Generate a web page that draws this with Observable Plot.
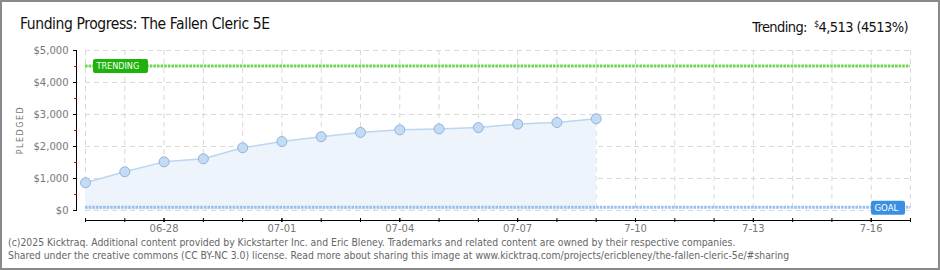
<!DOCTYPE html>
<html><head><meta charset="utf-8">
<script src="https://cdn.jsdelivr.net/npm/d3@7"></script>
<script src="https://cdn.jsdelivr.net/npm/@observablehq/plot@0.6"></script>
<style>
body{margin:0;background:#fff;}
#wrap{position:relative;width:940px;height:270px;overflow:hidden;background:#fff;}
#border{position:absolute;left:0;top:0;width:940px;height:270px;box-sizing:border-box;border:2px solid #8a8a8a;pointer-events:none}
.hd{position:absolute;top:16px;font-family:"DejaVu Sans Condensed",sans-serif;font-size:15.5px;line-height:16px;color:#111;white-space:nowrap;letter-spacing:-0.4px}
#title{left:20px}
#trend{right:32px;font-size:14.5px;letter-spacing:-0.6px}
#trend sup{font-size:9px;vertical-align:5px}
#chart{position:absolute;left:0;top:40px}
#ylab{position:absolute;left:20px;top:130px;transform:translate(-50%,-50%) rotate(-90deg);font-family:"DejaVu Sans",sans-serif;font-size:8px;letter-spacing:1.5px;color:#777;white-space:nowrap}
#foot{position:absolute;left:8px;top:236px;font-family:"DejaVu Sans Condensed",sans-serif;font-size:10.35px;color:#666;line-height:13px;white-space:nowrap}
</style></head>
<body>
<div id="wrap">
  <div id="title" class="hd">Funding Progress: The Fallen Cleric 5E</div>
  <div id="trend" class="hd">Trending:&nbsp; <sup>$</sup>4,513 (4513%)</div>
  <div id="chart"></div>
  <div id="ylab">PLEDGED</div>
  <div id="foot">(c)2025 Kicktraq. Additional content provided by Kickstarter Inc. and Eric Bleney. Trademarks and related content are owned by their respective companies.<br>Shared under the creative commons (CC BY-NC 3.0) license. Read more about sharing this image at www.kicktraq.com/projects/ericbleney/the-fallen-cleric-5e/#sharing</div>
  <div id="border"></div>
</div>
<script>
const dates = ["2025-06-26","2025-06-27","2025-06-28","2025-06-29","2025-06-30","2025-07-01","2025-07-02","2025-07-03","2025-07-04","2025-07-05","2025-07-06","2025-07-07","2025-07-08","2025-07-09"];
const pledged = [866,1210,1520,1615,1960,2155,2305,2440,2520,2550,2590,2700,2750,2865];
const goal = 100;
const trending = 4513;
const yTicks = [0,1000,2000,3000,4000,5000];
const yMinorTicks = [500,1500,2500,3500,4500];
const xLabelDates = ["2025-06-28","2025-07-01","2025-07-04","2025-07-07","2025-07-10","2025-07-13","2025-07-16"];
const xTickLabels = ["06-28","07-01","07-04","07-07","7-10","7-13","7-16"];
const domainStart = "2025-06-26", domainEnd = "2025-07-17";

const parse = d3.utcParse("%Y-%m-%d");
const data = dates.map((d, i) => ({date: parse(d), value: pledged[i]}));
const x0 = parse(domainStart), x1 = parse(domainEnd);
const allDays = d3.utcDay.range(x0, d3.utcDay.offset(x1, 1));
const labelDates = xLabelDates.map(parse);
const labelMap = new Map(labelDates.map((d, i) => [+d, xTickLabels[i]]));
const fmt = d3.format(",");

const chart = Plot.plot({
  width: 940, height: 195,
  marginLeft: 85, marginRight: 30, marginTop: 10, marginBottom: 25,
  x: {type: "utc", domain: [x0, x1], label: null},
  y: {domain: [0, 5000], label: null},
  style: {fontFamily: "DejaVu Sans, sans-serif", fontSize: "10px", color: "#777", background: "transparent", overflow: "visible"},
  marks: [
    Plot.gridX({ticks: allDays, stroke: "#d9d9d9", strokeOpacity: 1, strokeDasharray: "5,4"}),
    Plot.gridY({ticks: yTicks, stroke: "#d9d9d9", strokeOpacity: 1, strokeDasharray: "5,4"}),
    Plot.areaY(data, {x: "date", y: "value", fill: "#edf4fc"}),
    Plot.lineY(data, {x: "date", y: "value", stroke: "#bcd6f2", strokeWidth: 1.5}),
    Plot.ruleY([goal], {stroke: "#9cc0ec", strokeWidth: 3, strokeDasharray: "2.6,1"}),
    Plot.ruleY([trending], {stroke: "#70d352", strokeWidth: 3, strokeDasharray: "2.6,1"}),
    Plot.dot(data, {x: "date", y: "value", r: 5, fill: "#c3dbf5", stroke: "#93b3da", strokeWidth: 1}),
    // TRENDING tag
    Plot.rect([{x: x0, y: trending}], {x1: "x", x2: "x", y1: "y", y2: "y", insetLeft: 8, insetRight: -63, insetTop: -6.6, insetBottom: -7.4, fill: "#1db30b", rx: 2}),
    Plot.text([{x: x0, y: trending}], {x: "x", y: "y", text: () => "TRENDING", dx: 11, dy: 0.5, textAnchor: "start", fill: "#fff", fontSize: 9, fontFamily: "DejaVu Sans Condensed, sans-serif"}),
    // GOAL tag
    Plot.rect([{x: x1, y: goal}], {x1: "x", x2: "x", y1: "y", y2: "y", insetLeft: -39, insetRight: 5, insetTop: -6, insetBottom: -8, fill: "#3b8fe0", rx: 2}),
    Plot.text([{x: x1, y: goal}], {x: "x", y: "y", text: () => "GOAL", dx: -36, dy: 1, textAnchor: "start", fill: "#fff", fontSize: 9.5, fontFamily: "DejaVu Sans Condensed, sans-serif"}),
    // Y axis
    Plot.ruleX([{x: x0}], {x: "x", y1: () => 0, y2: () => 5000, dx: -9, stroke: "#000"}),
    Plot.axisY({ticks: yMinorTicks, tickSize: 3, dx: -8, stroke: "#e00000", fill: "none"}),
    Plot.axisY({ticks: yTicks, tickSize: 4, dx: -8, tickPadding: 5, stroke: "#000", fill: "#777", tickFormat: d => "$" + fmt(d)}),
    // X axis
    Plot.ruleY([{y: 0, a: x0, b: x1}], {y: "y", x1: "a", x2: "b", dy: 10, stroke: "#000"}),
    Plot.axisX({ticks: allDays, tickSize: 4, dy: 8, stroke: "#000", fill: "none"}),
    Plot.axisX({ticks: labelDates, tickSize: 4, dy: 8, tickPadding: 2, stroke: "#000", fill: "#777", tickFormat: d => labelMap.get(+d)})
  ]
});
document.getElementById("chart").appendChild(chart);
</script>
</body></html>
